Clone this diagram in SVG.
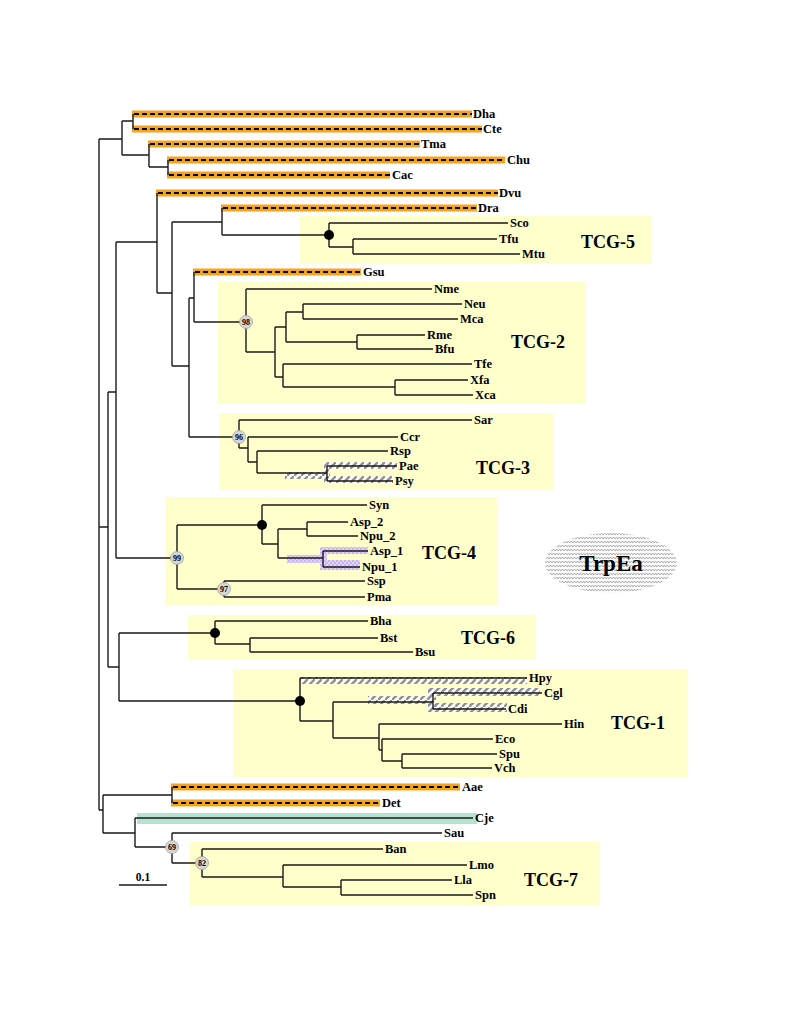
<svg xmlns="http://www.w3.org/2000/svg" width="785" height="1016" viewBox="0 0 785 1016">
<style>
.lbl{font-family:"Liberation Serif","Times New Roman",serif;font-weight:bold;font-size:12.5px;fill:#000}
.tcg{font-family:"Liberation Serif","Times New Roman",serif;font-weight:bold;font-size:18px;fill:#000}
.box{fill:#ffffcc}
.br{fill:none;stroke:#1a1a1a;stroke-width:1.4}
.dash{fill:none;stroke:#000;stroke-width:1.8;stroke-dasharray:5,3}
.orange{fill:#f5a21c}
.teal{fill:#b5e3cf}
.hatch{fill:url(#hatch)}
.dots{fill:url(#dots)}
.bs{fill:#d6d6d6;stroke:#9a9a9a;stroke-width:0.7}
.bst{font-family:"Liberation Serif","Times New Roman",serif;font-weight:bold;font-size:8px;fill:#000;text-anchor:middle}
.fn{fill:#000}
</style>
<defs>
<pattern id="hatch" patternUnits="userSpaceOnUse" width="7" height="7">
<rect width="7" height="7" fill="#ffffff" fill-opacity="0.6"/>
<path d="M-1,8 L8,-1" stroke="#8e8ea4" stroke-width="2.4"/>
</pattern>
<pattern id="dots" patternUnits="userSpaceOnUse" width="4" height="4">
<rect width="4" height="4" fill="#e2d4f6"/>
<circle cx="1" cy="1" r="1" fill="#c2a9ee"/>
<circle cx="3" cy="3" r="1" fill="#c2a9ee"/>
</pattern>
<pattern id="wave" patternUnits="userSpaceOnUse" width="6" height="4">
<rect width="6" height="4" fill="#fafafa"/>
<path d="M0,3 L1.5,1 L3,3 L4.5,1 L6,3" fill="none" stroke="#9c9c9c" stroke-width="0.8"/>
</pattern>
</defs>
<rect width="785" height="1016" fill="#ffffff"/>

<g id="clade-boxes">
<rect id="box-tcg5" class="box" x="300" y="216" width="351" height="47"/>
<rect id="box-tcg2" class="box" x="218" y="282" width="367" height="122"/>
<rect id="box-tcg3" class="box" x="219" y="413" width="334" height="77"/>
<rect id="box-tcg4" class="box" x="165" y="497" width="332" height="108"/>
<rect id="box-tcg6" class="box" x="188" y="615" width="347" height="45"/>
<rect id="box-tcg1" class="box" x="233" y="669" width="455" height="108"/>
<rect id="box-tcg7" class="box" x="190" y="842" width="410" height="63"/>
</g>

<g id="highlight-bands">
<rect class="orange" x="132" y="110.5" width="340" height="7"/>
<rect class="orange" x="132" y="125.5" width="350" height="7"/>
<rect class="orange" x="148" y="140.5" width="272" height="7"/>
<rect class="orange" x="167" y="156.5" width="338" height="7"/>
<rect class="orange" x="167" y="171.5" width="223" height="7"/>
<rect class="orange" x="156" y="189.5" width="342" height="7"/>
<rect class="orange" x="221" y="204.5" width="256" height="7"/>
<rect class="orange" x="193" y="268.5" width="168" height="7"/>
<rect class="orange" x="171" y="783.5" width="289" height="7"/>
<rect class="orange" x="171" y="799.5" width="209" height="7"/>
<rect class="teal" x="137" y="813" width="340" height="11"/>
<rect class="hatch" x="285" y="472" width="42" height="7"/>
<rect class="hatch" x="325" y="462" width="72" height="7"/>
<rect class="hatch" x="325" y="476" width="68" height="7"/>
<rect class="hatch" x="324" y="462" width="6" height="21"/>
<rect class="dots" x="287" y="555" width="36" height="8"/>
<rect class="dots" x="320" y="547" width="48" height="7"/>
<rect class="dots" x="320" y="560" width="40" height="10"/>
<rect class="dots" x="320" y="547" width="7" height="23"/>
<rect class="hatch" x="300" y="677" width="227" height="7"/>
<rect class="hatch" x="368" y="696" width="65" height="8"/>
<rect class="hatch" x="428" y="688" width="112" height="8"/>
<rect class="hatch" x="428" y="703" width="79" height="9"/>
<rect class="hatch" x="428" y="688" width="8" height="24"/>
</g>

<g id="connectors">
<path class="br" d="M99,139H122 M122,121H133 M122,155H149 M149,167H168 M99,527H108 M108,392H116 M116,242H157 M157,293H172 M172,222H222 M222,235H329 M329,223H508 M329,247H353 M353,239H497 M353,254H520 M172,366H189 M189,298H194 M194,322H246 M246,289H432 M246,352H275 M275,327H286 M286,312H303 M303,304H462 M303,319H458 M286,342H357 M357,335H425 M357,349H433 M275,377H283 M283,364H472 M283,387H395 M395,380H468 M395,395H473 M189,437H239 M239,420H472 M239,448H248 M248,437H398 M248,462H257 M257,451H388 M257,473H327 M327,466H397 M327,481H393 M116,558H177 M177,525H262 M262,505H367 M262,544H278 M278,529H307 M307,522H348 M307,536H358 M278,558H323 M323,551H368 M323,567H360 M177,589H224 M224,581H365 M224,597H365 M108,667H119 M119,633H215 M215,621H368 M215,644H250 M250,638H378 M250,652H413 M119,701H300 M300,678H527 M300,721H333 M333,702H433 M433,693H542 M433,709H506 M333,738H379 M379,724H562 M379,750H382 M382,739H493 M382,761H402 M402,754H497 M402,768H492 M99,810H103 M103,795H172 M103,833H135 M135,818H473 M135,847H172 M172,833H442 M172,863H202 M202,849H383 M202,877H283 M283,865H467 M283,887H341 M341,880H452 M341,895H473"/>
<path class="br" d="M99,139V810 M122,121V155 M133,114V129 M149,144V167 M168,160V175 M108,392V667 M116,242V558 M157,193V293 M172,222V366 M222,208V235 M329,223V247 M353,239V254 M189,298V437 M194,272V322 M246,289V352 M275,327V377 M286,312V342 M303,304V319 M357,335V349 M283,364V387 M395,380V395 M239,420V448 M248,437V462 M257,451V473 M327,466V481 M177,525V589 M262,505V544 M278,529V558 M307,522V536 M323,551V567 M224,581V597 M119,633V701 M215,621V644 M250,638V652 M300,678V721 M333,702V738 M433,693V709 M379,724V750 M382,739V761 M402,754V768 M103,795V833 M172,787V803 M135,818V847 M172,833V863 M202,849V877 M283,865V887 M341,880V895"/>
<path class="dash" d="M134,114H472 M134,129H482 M150,144H420 M169,160H505 M169,175H390 M158,193H498 M223,208H477 M195,272H361 M173,787H460 M173,803H380"/>
</g>

<g id="support-nodes">
<circle class="fn" cx="329" cy="235" r="5"/>
<circle class="fn" cx="262" cy="525" r="5"/>
<circle class="fn" cx="215" cy="633" r="5"/>
<circle class="fn" cx="300" cy="701" r="5"/>
<g id="bs98"><circle class="bs" cx="246" cy="322" r="6.5"/><text class="bst" x="246" y="325">98</text></g>
<g id="bs96"><circle class="bs" cx="239" cy="437" r="6.5"/><text class="bst" x="239" y="440">96</text></g>
<g id="bs99"><circle class="bs" cx="177" cy="558" r="6.5"/><text class="bst" x="177" y="561">99</text></g>
<g id="bs97"><circle class="bs" cx="224" cy="589" r="6.5"/><text class="bst" x="224" y="592">97</text></g>
<g id="bs69"><circle class="bs" cx="172" cy="847" r="6.5"/><text class="bst" x="172" y="850">69</text></g>
<g id="bs82"><circle class="bs" cx="202" cy="863" r="6.5"/><text class="bst" x="202" y="866">82</text></g>
</g>

<g id="leaves">
<g id="leaf-Dha"><text class="lbl" x="473" y="118">Dha</text></g>
<g id="leaf-Cte"><text class="lbl" x="483" y="133">Cte</text></g>
<g id="leaf-Tma"><text class="lbl" x="421" y="148">Tma</text></g>
<g id="leaf-Chu"><text class="lbl" x="507" y="164">Chu</text></g>
<g id="leaf-Cac"><text class="lbl" x="392" y="179">Cac</text></g>
<g id="leaf-Dvu"><text class="lbl" x="499" y="197">Dvu</text></g>
<g id="leaf-Dra"><text class="lbl" x="478" y="212">Dra</text></g>
<g id="leaf-Sco"><text class="lbl" x="510" y="227">Sco</text></g>
<g id="leaf-Tfu"><text class="lbl" x="499" y="243">Tfu</text></g>
<g id="leaf-Mtu"><text class="lbl" x="522" y="258">Mtu</text></g>
<g id="leaf-Gsu"><text class="lbl" x="363" y="276">Gsu</text></g>
<g id="leaf-Nme"><text class="lbl" x="434" y="293">Nme</text></g>
<g id="leaf-Neu"><text class="lbl" x="464" y="308">Neu</text></g>
<g id="leaf-Mca"><text class="lbl" x="460" y="323">Mca</text></g>
<g id="leaf-Rme"><text class="lbl" x="427" y="339">Rme</text></g>
<g id="leaf-Bfu"><text class="lbl" x="435" y="353">Bfu</text></g>
<g id="leaf-Tfe"><text class="lbl" x="474" y="368">Tfe</text></g>
<g id="leaf-Xfa"><text class="lbl" x="470" y="384">Xfa</text></g>
<g id="leaf-Xca"><text class="lbl" x="475" y="399">Xca</text></g>
<g id="leaf-Sar"><text class="lbl" x="474" y="424">Sar</text></g>
<g id="leaf-Ccr"><text class="lbl" x="400" y="441">Ccr</text></g>
<g id="leaf-Rsp"><text class="lbl" x="390" y="455">Rsp</text></g>
<g id="leaf-Pae"><text class="lbl" x="399" y="470">Pae</text></g>
<g id="leaf-Psy"><text class="lbl" x="395" y="485">Psy</text></g>
<g id="leaf-Syn"><text class="lbl" x="369" y="509">Syn</text></g>
<g id="leaf-Asp_2"><text class="lbl" x="350" y="526">Asp_2</text></g>
<g id="leaf-Npu_2"><text class="lbl" x="360" y="540">Npu_2</text></g>
<g id="leaf-Asp_1"><text class="lbl" x="370" y="555">Asp_1</text></g>
<g id="leaf-Npu_1"><text class="lbl" x="362" y="571">Npu_1</text></g>
<g id="leaf-Ssp"><text class="lbl" x="367" y="585">Ssp</text></g>
<g id="leaf-Pma"><text class="lbl" x="367" y="601">Pma</text></g>
<g id="leaf-Bha"><text class="lbl" x="370" y="625">Bha</text></g>
<g id="leaf-Bst"><text class="lbl" x="380" y="642">Bst</text></g>
<g id="leaf-Bsu"><text class="lbl" x="415" y="656">Bsu</text></g>
<g id="leaf-Hpy"><text class="lbl" x="529" y="682">Hpy</text></g>
<g id="leaf-Cgl"><text class="lbl" x="544" y="697">Cgl</text></g>
<g id="leaf-Cdi"><text class="lbl" x="508" y="713">Cdi</text></g>
<g id="leaf-Hin"><text class="lbl" x="564" y="728">Hin</text></g>
<g id="leaf-Eco"><text class="lbl" x="495" y="743">Eco</text></g>
<g id="leaf-Spu"><text class="lbl" x="499" y="758">Spu</text></g>
<g id="leaf-Vch"><text class="lbl" x="494" y="772">Vch</text></g>
<g id="leaf-Aae"><text class="lbl" x="462" y="791">Aae</text></g>
<g id="leaf-Det"><text class="lbl" x="382" y="807">Det</text></g>
<g id="leaf-Cje"><text class="lbl" x="475" y="822">Cje</text></g>
<g id="leaf-Sau"><text class="lbl" x="444" y="837">Sau</text></g>
<g id="leaf-Ban"><text class="lbl" x="385" y="853">Ban</text></g>
<g id="leaf-Lmo"><text class="lbl" x="469" y="869">Lmo</text></g>
<g id="leaf-Lla"><text class="lbl" x="454" y="884">Lla</text></g>
<g id="leaf-Spn"><text class="lbl" x="475" y="899">Spn</text></g>
</g>

<g id="clade-labels">
<text class="tcg" x="581" y="248">TCG-5</text>
<text class="tcg" x="511" y="348">TCG-2</text>
<text class="tcg" x="476" y="474">TCG-3</text>
<text class="tcg" x="422" y="559">TCG-4</text>
<text class="tcg" x="461" y="644">TCG-6</text>
<text class="tcg" x="611" y="729">TCG-1</text>
<text class="tcg" x="524" y="886">TCG-7</text>
</g>

<g id="trpea">
<ellipse cx="611" cy="563" rx="66" ry="30" fill="url(#wave)"/>
<text x="611" y="571" text-anchor="middle" style="font-family:'Liberation Serif','Times New Roman',serif;font-weight:bold;font-size:23px">TrpEa</text>
</g>

<g id="scale-bar">
<path class="br" d="M119,885H167"/>
<text x="143" y="881" text-anchor="middle" style="font-family:'Liberation Serif','Times New Roman',serif;font-weight:bold;font-size:11.5px">0.1</text>
</g>
</svg>
